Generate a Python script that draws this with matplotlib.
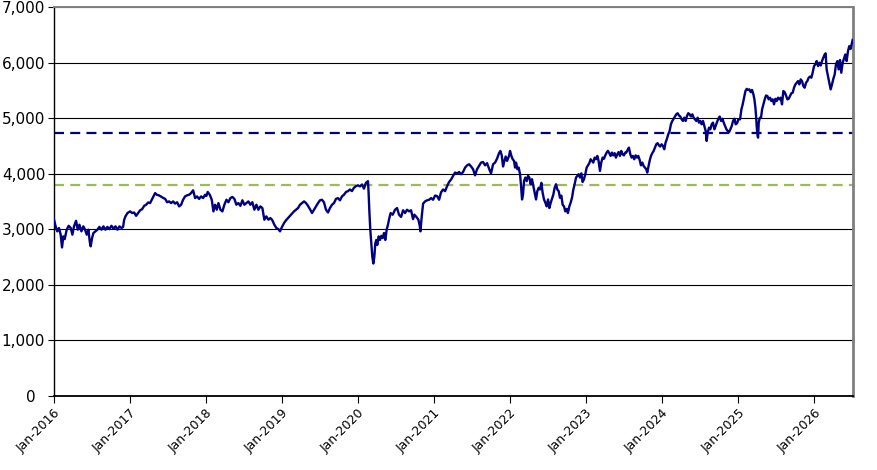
import numpy as np
import pandas as pd
import matplotlib
matplotlib.use("Agg")
import matplotlib.pyplot as plt
import matplotlib.dates as mdates
from matplotlib.ticker import FuncFormatter, MultipleLocator

# ---- data (dates as decimal years) ----
t_2016 = [2016.007, 2016.028, 2016.050, 2016.072, 2016.094, 2016.112, 2016.129, 2016.147, 2016.173, 2016.199,
          2016.226, 2016.248, 2016.269, 2016.296, 2016.318, 2016.340, 2016.366, 2016.392, 2016.414, 2016.436,
          2016.458, 2016.475, 2016.488, 2016.506, 2016.524, 2016.550, 2016.576, 2016.602, 2016.629, 2016.655,
          2016.681, 2016.708, 2016.734, 2016.760, 2016.786, 2016.813, 2016.839, 2016.865, 2016.892, 2016.913,
          2016.927, 2016.944, 2016.970, 2017.005, 2017.032, 2017.058, 2017.084, 2017.111, 2017.137, 2017.163,
          2017.190, 2017.216, 2017.242, 2017.268, 2017.290, 2017.312, 2017.334, 2017.356, 2017.382, 2017.408,
          2017.444]
v_2016 = [3170, 3050, 2960, 3020, 2900, 2670, 2870, 2820, 2990, 3060,
          3020, 2900, 3050, 3150, 2990, 3080, 2960, 3050, 2990, 2900,
          2990, 2780, 2690, 2840, 2930, 2960, 2990, 3040, 2990, 3050,
          2990, 3040, 3000, 3060, 3010, 3050, 2990, 3050, 3020, 3040,
          3170, 3230, 3290, 3320, 3290, 3300, 3240, 3290, 3340, 3360,
          3420, 3440, 3480, 3470, 3530, 3590, 3650, 3620, 3610, 3590,
          3560]

t_2017 = [2017.466, 2017.492, 2017.518, 2017.544, 2017.571, 2017.597, 2017.623, 2017.650, 2017.676, 2017.702,
          2017.728, 2017.755, 2017.781, 2017.807, 2017.834, 2017.860, 2017.886, 2017.912, 2017.939, 2017.965,
          2017.991, 2018.009, 2018.026, 2018.053, 2018.079, 2018.101, 2018.123, 2018.145, 2018.167, 2018.193,
          2018.219, 2018.245, 2018.272, 2018.298, 2018.324, 2018.351, 2018.377, 2018.403, 2018.429, 2018.456,
          2018.482, 2018.508, 2018.535, 2018.561, 2018.587, 2018.613, 2018.640, 2018.666, 2018.692, 2018.718,
          2018.745, 2018.771, 2018.797, 2018.824, 2018.850, 2018.876, 2018.902, 2018.929, 2018.955]
v_2017 = [3545, 3485, 3500, 3470, 3500, 3460, 3485, 3410, 3440, 3530,
          3590, 3610, 3620, 3650, 3700, 3560, 3590, 3545, 3590, 3560,
          3620, 3600, 3670, 3620, 3530, 3320, 3440, 3350, 3470, 3350,
          3320, 3440, 3530, 3485, 3560, 3580, 3545, 3440, 3470, 3420,
          3520, 3440, 3470, 3500, 3440, 3485, 3350, 3440, 3350, 3410,
          3380, 3170, 3230, 3170, 3200, 3160, 3080, 3020, 3000]

t_2019 = [2018.977, 2019.003, 2019.030, 2019.056, 2019.082, 2019.109, 2019.135, 2019.161, 2019.187, 2019.214,
          2019.240, 2019.266, 2019.293, 2019.319, 2019.345, 2019.371, 2019.398, 2019.424, 2019.450, 2019.477,
          2019.503, 2019.529, 2019.555, 2019.582, 2019.608, 2019.634, 2019.661, 2019.687, 2019.713, 2019.739,
          2019.766, 2019.792, 2019.818, 2019.845, 2019.871, 2019.897, 2019.923, 2019.950, 2019.976, 2020.002,
          2020.029, 2020.055, 2020.081, 2020.107, 2020.134, 2020.142, 2020.151, 2020.164, 2020.177, 2020.191,
          2020.204, 2020.217, 2020.230, 2020.243, 2020.256, 2020.274, 2020.291, 2020.309, 2020.326, 2020.344,
          2020.361, 2020.379, 2020.396, 2020.414, 2020.431, 2020.458]
v_2019 = [2960, 3040, 3110, 3160, 3200, 3240, 3280, 3320, 3350, 3380,
          3440, 3470, 3500, 3470, 3420, 3360, 3290, 3350, 3410, 3470,
          3520, 3530, 3485, 3350, 3300, 3380, 3440, 3470, 3545, 3560,
          3520, 3590, 3620, 3670, 3685, 3715, 3685, 3745, 3775, 3790,
          3770, 3805, 3730, 3835, 3865, 3655, 3350, 2990, 2745, 2500,
          2380, 2500, 2745, 2805, 2715, 2870, 2805, 2880, 2840, 2930,
          2805, 2990, 3080, 3200, 3290, 3260]

t_2020 = [2020.489, 2020.515, 2020.541, 2020.568, 2020.594, 2020.620, 2020.646, 2020.673, 2020.699, 2020.725,
          2020.743, 2020.769, 2020.795, 2020.813, 2020.822, 2020.839, 2020.857, 2020.883, 2020.909, 2020.936,
          2020.962, 2020.988, 2021.014, 2021.041, 2021.067, 2021.093, 2021.120, 2021.146, 2021.172, 2021.198,
          2021.225, 2021.251, 2021.277, 2021.304, 2021.330, 2021.356, 2021.382, 2021.409, 2021.435, 2021.461,
          2021.488, 2021.514, 2021.540, 2021.566, 2021.593, 2021.619, 2021.645, 2021.672, 2021.698, 2021.724,
          2021.750, 2021.777, 2021.803, 2021.829, 2021.855, 2021.873, 2021.891, 2021.908, 2021.926, 2021.943,
          2021.961, 2021.987]
v_2020 = [3350, 3380, 3260, 3220, 3340, 3290, 3350, 3320, 3340, 3180,
          3260, 3220, 3170, 3060, 2960, 3230, 3460, 3500, 3520, 3530,
          3560, 3530, 3605, 3595, 3530, 3665, 3715, 3685, 3775, 3850,
          3895, 3960, 4020, 4005, 4030, 3990, 4030, 4110, 4150, 4170,
          4130, 4080, 3970, 4080, 4140, 4200, 4210, 4150, 4190, 4090,
          4005, 4170, 4200, 4270, 4370, 4410, 4330, 4130, 4230, 4310,
          4230, 4320]

t_2022 = [2022.000, 2022.018, 2022.035, 2022.053, 2022.066, 2022.079, 2022.097, 2022.114, 2022.132, 2022.145,
          2022.158, 2022.171, 2022.184, 2022.202, 2022.219, 2022.237, 2022.254, 2022.272, 2022.289, 2022.307,
          2022.324, 2022.342, 2022.359, 2022.377, 2022.394, 2022.412, 2022.429, 2022.447, 2022.465, 2022.482,
          2022.500, 2022.517, 2022.535, 2022.552, 2022.570, 2022.587, 2022.605, 2022.622, 2022.640, 2022.657,
          2022.675, 2022.692, 2022.710, 2022.727, 2022.745, 2022.762, 2022.780, 2022.797, 2022.815, 2022.833,
          2022.850, 2022.868, 2022.885, 2022.903, 2022.920, 2022.938, 2022.955, 2022.973, 2022.990, 2023.008,
          2023.025, 2023.043, 2023.060, 2023.078, 2023.095, 2023.113, 2023.130, 2023.148, 2023.165, 2023.183,
          2023.200, 2023.218, 2023.236, 2023.253, 2023.271, 2023.288, 2023.306, 2023.323, 2023.341, 2023.358,
          2023.376, 2023.393, 2023.411, 2023.428, 2023.446, 2023.463, 2023.481, 2023.498, 2023.516]
v_2022 = [4410, 4320, 4260, 4230, 4110, 4200, 4080, 4110, 3990, 3775,
          3535, 3625, 3865, 3930, 3865, 3960, 3930, 3810, 3900, 3775,
          3655, 3535, 3685, 3745, 3715, 3835, 3655, 3535, 3475, 3410,
          3535, 3380, 3475, 3545, 3625, 3745, 3810, 3715, 3685, 3565,
          3605, 3440, 3410, 3320, 3365, 3290, 3410, 3475, 3565, 3715,
          3810, 3930, 3960, 3990, 3930, 4005, 3850, 3900, 3990, 4110,
          4150, 4190, 4260, 4230, 4200, 4290, 4260, 4320, 4230, 4050,
          4200, 4290, 4270, 4330, 4380, 4410, 4370, 4320, 4380, 4330,
          4370, 4290, 4350, 4390, 4320, 4410, 4350, 4330, 4380]

t_2023 = [2023.529, 2023.547, 2023.564, 2023.582, 2023.599, 2023.617, 2023.634, 2023.652, 2023.670, 2023.687,
          2023.705, 2023.722, 2023.740, 2023.757, 2023.775, 2023.792, 2023.805, 2023.818, 2023.836, 2023.854,
          2023.871, 2023.889, 2023.906, 2023.924, 2023.941, 2023.959, 2023.976, 2023.994, 2024.011, 2024.029,
          2024.046, 2024.064, 2024.081, 2024.099, 2024.116, 2024.134, 2024.151, 2024.169, 2024.186, 2024.204,
          2024.222, 2024.239, 2024.257, 2024.274, 2024.292, 2024.309, 2024.327, 2024.344, 2024.362, 2024.379,
          2024.397, 2024.414, 2024.432, 2024.449, 2024.467, 2024.484, 2024.502, 2024.519, 2024.537, 2024.555,
          2024.572, 2024.585, 2024.598, 2024.616, 2024.633, 2024.651, 2024.668, 2024.686, 2024.703, 2024.721,
          2024.738, 2024.756, 2024.774, 2024.791, 2024.809, 2024.826, 2024.844, 2024.861, 2024.879, 2024.896,
          2024.914, 2024.931, 2024.949, 2024.966, 2024.984, 2025.001]
v_2023 = [4380, 4430, 4470, 4350, 4290, 4320, 4260, 4330, 4290, 4320,
          4250, 4150, 4200, 4140, 4110, 4080, 4020, 4110, 4230, 4320,
          4370, 4410, 4470, 4530, 4550, 4510, 4490, 4530, 4500, 4440,
          4560, 4630, 4710, 4770, 4890, 4950, 4990, 5030, 5070, 5090,
          5050, 5030, 4980, 4950, 5010, 4950, 5040, 5090, 5070, 5030,
          5070, 5010, 4980, 4950, 5010, 4920, 4950, 4890, 4950, 4860,
          4770, 4590, 4740, 4830, 4800, 4890, 4920, 4800, 4860, 4930,
          4990, 5030, 4950, 4990, 4920, 4860, 4800, 4770, 4750, 4800,
          4860, 4950, 4990, 4890, 4910, 4980]

t_2025 = [2025.023, 2025.041, 2025.058, 2025.076, 2025.094, 2025.111, 2025.129, 2025.146, 2025.164, 2025.181,
          2025.199, 2025.212, 2025.225, 2025.234, 2025.242, 2025.251, 2025.260, 2025.269, 2025.278, 2025.286,
          2025.299, 2025.313, 2025.330, 2025.348, 2025.365, 2025.383, 2025.400, 2025.418, 2025.435, 2025.453,
          2025.470, 2025.488, 2025.505, 2025.523, 2025.540, 2025.558, 2025.575, 2025.593, 2025.610, 2025.628,
          2025.645, 2025.663, 2025.681, 2025.698, 2025.716, 2025.733, 2025.751, 2025.768, 2025.786, 2025.803,
          2025.821, 2025.838, 2025.856, 2025.873, 2025.891, 2025.908, 2025.926, 2025.943, 2025.961, 2025.978,
          2025.996, 2026.013, 2026.031, 2026.049, 2026.066, 2026.084, 2026.101, 2026.119, 2026.136, 2026.149,
          2026.162, 2026.180, 2026.198, 2026.215, 2026.233, 2026.250, 2026.268, 2026.285, 2026.303, 2026.320,
          2026.338, 2026.355, 2026.373, 2026.390, 2026.408, 2026.425, 2026.443, 2026.460, 2026.478, 2026.495,
          2026.504]
v_2025 = [4980, 5160, 5250, 5370, 5490, 5530, 5510, 5520, 5470, 5510,
          5430, 5340, 5190, 5040, 4860, 4710, 4650, 4920, 4980, 5010,
          5010, 5160, 5250, 5340, 5410, 5400, 5340, 5370, 5310, 5340,
          5250, 5350, 5310, 5370, 5340, 5370, 5250, 5490, 5470, 5410,
          5340, 5350, 5400, 5450, 5460, 5550, 5610, 5640, 5670, 5610,
          5700, 5670, 5580, 5550, 5640, 5670, 5730, 5750, 5730, 5820,
          5940, 5970, 6030, 5940, 6000, 5950, 6030, 6090, 6150, 6170,
          5880, 5760, 5640, 5520, 5610, 5710, 5790, 5970, 6030, 5880,
          6050, 5820, 6000, 6070, 6150, 6030, 6210, 6300, 6250, 6360,
          6410]

level_blue = 4735
level_green = 3795
x_start, x_end = 2016.0, 2026.505
year_ticks = list(range(2016, 2027))


def dec_to_dt(arr):
    out = []
    for d in arr:
        y = int(np.floor(d))
        s = pd.Timestamp(year=y, month=1, day=1)
        e = pd.Timestamp(year=y + 1, month=1, day=1)
        out.append(s + (e - s) * (d - y))
    return pd.DatetimeIndex(out)


t_all = t_2016 + t_2017 + t_2019 + t_2020 + t_2022 + t_2023 + t_2025
v_all = v_2016 + v_2017 + v_2019 + v_2020 + v_2022 + v_2023 + v_2025
series = pd.Series(v_all, index=dec_to_dt(t_all))

W, H = 877, 470
fig = plt.figure(figsize=(W / 100, H / 100), dpi=100)
left, right, top, bottom = 53.5, 852.7, 7.3, 395.5
ax = fig.add_axes([left / W, 1 - bottom / H, (right - left) / W, (bottom - top) / H])

ax.axhline(level_green, color="#9BBB59", lw=1.6, dashes=(4.5, 2.8), zorder=2)
ax.axhline(level_blue, color="#000080", lw=1.6, dashes=(4.5, 2.8), zorder=2)
ax.plot(series.index, series.values, color="#000080", lw=1.7, zorder=3)

ax.set_ylim(0, 7000)
ax.yaxis.set_major_locator(MultipleLocator(1000))
ax.yaxis.set_major_formatter(FuncFormatter(lambda v, p: "0  " if v == 0 else f"{v:,.0f}"))
ax.grid(axis="y", color="black", lw=0.8)
ax.set_axisbelow(True)

xs = dec_to_dt([x_start, x_end])
ax.set_xlim(xs[0], xs[1])
ax.set_xticks(dec_to_dt(year_ticks))
ax.xaxis.set_major_formatter(mdates.DateFormatter("%b-%Y"))
for lab in ax.get_xticklabels():
    lab.set_rotation(45)
    lab.set_ha("right")
    lab.set_va("top")
    lab.set_rotation_mode("anchor")

ax.tick_params(axis="y", labelsize=11, length=4, width=0.8, pad=2, direction="out")
ax.tick_params(axis="x", labelsize=9, length=5, width=0.8, pad=3, direction="out")

ax.spines["top"].set_color("#808080")
ax.spines["top"].set_linewidth(1.4)
ax.spines["right"].set_color("#808080")
ax.spines["right"].set_linewidth(2.0)
ax.spines["left"].set_color("black")
ax.spines["left"].set_linewidth(1.0)
ax.spines["bottom"].set_color("black")
ax.spines["bottom"].set_linewidth(1.3)

fig.savefig("out.png", dpi=100)
